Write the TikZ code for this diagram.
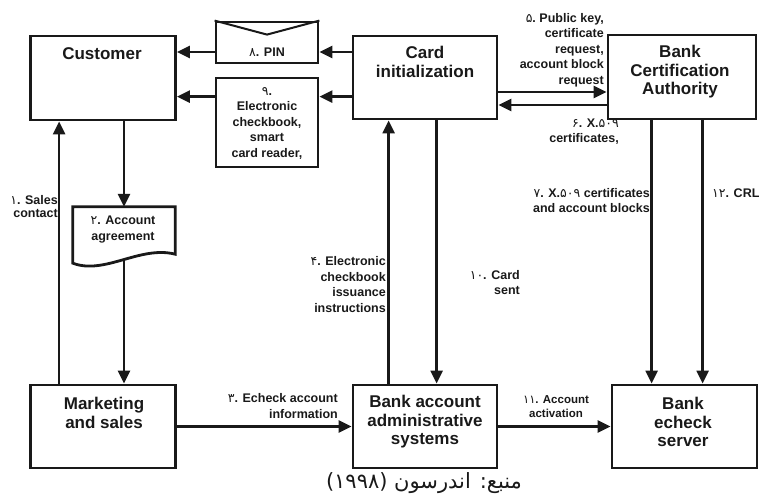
\documentclass[tikz,border=0pt]{standalone}
\usepackage{fontspec}
\setmainfont{Liberation Sans}
\newfontfamily\arabicfont[Script=Arabic]{DejaVu Sans}
\TeXXeTstate=1
\usetikzlibrary{arrows.meta, calc, positioning}
\definecolor{tinta}{RGB}{25,25,25}
\newcommand{\fa}[1]{{\arabicfont\mdseries #1}}
\tikzset{
    caixa/.style={draw=tinta, line width=2.8pt, inner sep=0pt},
    titulo/.style={font=\bfseries\fontsize{17}{18.5}\selectfont, align=center, text=tinta},
    rotulo/.style={font=\bfseries\fontsize{12.5}{15.5}\selectfont, text=tinta, inner sep=0pt},
    seta/.style={draw=tinta, line width=2.4pt, -{Triangle[length=13pt,width=12pt]}}
}

\begin{document}
\begin{tikzpicture}[x=1pt, y=-1pt]
    \useasboundingbox (0,0) rectangle (759,503);
    \node[caixa, minimum width=145pt, minimum height=84pt] (cust) at (103,78) {};
    \node[titulo] (custt) at (102,54) {Customer};
    \node[caixa, minimum width=102pt, minimum height=41pt] (pin) at (267,42.5) {};
    \draw[tinta, line width=2pt] (pin.north west) -- ($(pin.north)+(0,14)$) -- (pin.north east);
    \node[rotulo] (pint) at (267,52) {\fa{۸}. PIN};
    \node[caixa, minimum width=102pt, minimum height=89pt] (chk) at (267,122.5) {};
    \node[rotulo, align=center] (chkt) at (267,123) {\fa{۹}.\\Electronic\\checkbook,\\smart\\card reader,};
    \node[caixa, minimum width=144pt, minimum height=83pt] (card) at (425,77.5) {};
    \node[titulo] (cardt) at (425,62) {Card\\initialization};
    \node[caixa, minimum width=148pt, minimum height=84pt] (bca) at (682,77) {};
    \node[titulo] (bcat) at (680,72) {Bank\\Certification\\Authority};
    \node[minimum width=102pt, minimum height=56pt, inner sep=0pt] (agree) at (124,235) {};
    \draw[caixa] (agree.north west) -- (agree.north east) -- ($(agree.south east)+(0,-9)$)
        .. controls +(-35,-9) and +(32,12) .. (agree.south west) -- cycle;
    \node[rotulo, align=center] (agreet) at (123,229.5) {\fa{۲}. Account\\agreement};
    \node[caixa, minimum width=145pt, minimum height=83pt] (mkt) at (103,426.5) {};
    \node[titulo] (mktt) at (104,413) {Marketing\\and sales};
    \node[caixa, minimum width=144pt, minimum height=83pt] (adm) at (425,426.5) {};
    \node[titulo] (admt) at (425,422) {Bank account\\administrative\\systems};
    \node[caixa, minimum width=145pt, minimum height=83pt] (srv) at (684.5,426.5) {};
    \node[titulo] (srvt) at (683,422) {Bank\\echeck\\server};

    \draw[seta] (card.west |- pint) -- (pin.east |- pint);
    \draw[seta] (pin.west |- pint) -- (cust.east |- pint);
    \draw[seta] ([yshift=-20pt]chk.north -| card.west) -- ([yshift=-20pt]chk.north east);
    \draw[seta] ([yshift=-20pt]chk.north west) -- ([yshift=-20pt]chk.north -| cust.east);
    \draw[seta] ([yshift=-14.5pt]card.east) -- ([yshift=-14.5pt]card.east -| bca.west);
    \draw[seta] ([yshift=-27.5pt]card.east -| bca.west) -- ([yshift=-27.5pt]card.east);
    \draw[seta] ([xshift=30pt]mkt.north west) -- ([xshift=30pt]cust.south west);
    \draw[seta] (cust.south -| agree.north) -- (agree.north);
    \draw[seta] ([yshift=4pt]agree.south) -- (agree.south |- mkt.north);
    \draw[seta] (mkt.east) -- (adm.west);
    \draw[seta] ([xshift=37pt]adm.north west) -- ([xshift=37pt]adm.north west |- card.south);
    \draw[seta] ([xshift=85pt]card.south west) -- ([xshift=85pt]card.south west |- adm.north);
    \draw[seta] ([xshift=45pt]bca.south west) -- ([xshift=45pt]bca.south west |- srv.north);
    \draw[seta] ([xshift=96pt]bca.south west) -- ([xshift=96pt]bca.south west |- srv.north);
    \draw[seta] (adm.east) -- (srv.west);

    \node[rotulo, align=right, anchor=east] (l5) at (604,50) {\fa{۵}.\ Public key,\\certificate\\request,\\account block\\request};
    \node[rotulo, align=right, anchor=east] (l6) at (619,131.5) {\fa{۶}. X.\fa{۵۰۹}\\certificates,};
    \node[rotulo, align=right, anchor=east] (l7) at (650,200.5) {\fa{۷}. X.\fa{۵۰۹} certificates\\and account blocks};
    \node[rotulo, anchor=west] (l12) at (712,193) {\fa{۱۲}. CRL};
    \node[rotulo, align=right, anchor=east] (l10) at (520,282.5) {\fa{۱۰}. Card\\sent};
    \node[rotulo, align=right, anchor=east] (l4) at (386,284.5) {\fa{۴}. Electronic\\checkbook\\issuance\\instructions};
    \node[rotulo, align=right, anchor=east, font=\bfseries\fontsize{12.5}{13.5}\selectfont] (l1) at (58,206.5) {\fa{۱}. Sales\\contact};
    \node[rotulo, align=right, anchor=east] (l3) at (338,406) {\fa{۳}. Echeck account\\information};
    \node[rotulo, align=center, font=\bfseries\fontsize{11.5}{13.5}\selectfont] (l11) at (556,406.5) {\fa{۱۱}. Account\\activation};
    \node[font=\arabicfont\fontsize{21}{23}\selectfont, text=tinta] (fonte) at (424,483) {\beginR منبع: اندرسون (۱۹۹۸)\endR};
\end{tikzpicture}
\end{document}
